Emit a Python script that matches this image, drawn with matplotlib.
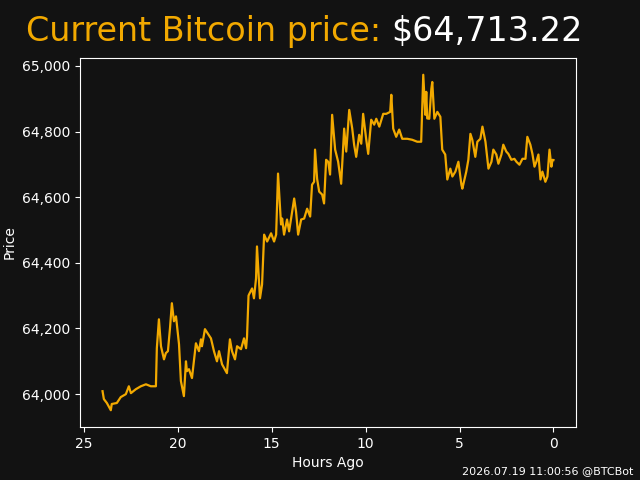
import matplotlib
matplotlib.use("Agg")
import matplotlib.pyplot as plt
from matplotlib.ticker import FuncFormatter

hours_ago = [24.0, 23.93, 23.77, 23.56, 23.51, 23.24, 23.03, 22.76, 22.60, 22.49, 22.23, 21.96, 21.69, 21.43, 21.16,
             21.11, 21.00, 20.89, 20.73, 20.63, 20.52, 20.41, 20.31, 20.20, 20.09, 19.93, 19.83, 19.67, 19.56, 19.51,
             19.40, 19.24, 19.13, 19.03, 18.87, 18.76, 18.71, 18.55, 18.23, 18.07, 17.91, 17.80, 17.64, 17.38, 17.22,
             17.11, 16.95, 16.84, 16.63, 16.47, 16.36, 16.31, 16.23, 16.20, 16.04, 15.94, 15.83, 15.78, 15.62, 15.51,
             15.40, 15.24, 15.03, 14.87, 14.76, 14.66, 14.50, 14.44, 14.34, 14.18, 14.07, 13.91, 13.80, 13.70, 13.59,
             13.43, 13.27, 13.11, 12.95, 12.85, 12.74, 12.69, 12.58, 12.47, 12.31, 12.21, 12.10, 11.99, 11.89, 11.78,
             11.62, 11.46, 11.30, 11.14, 11.03, 10.87, 10.71, 10.61, 10.50, 10.34, 10.23, 10.13, 9.97, 9.86, 9.70,
             9.54, 9.43, 9.27, 9.06, 8.90, 8.69, 8.63, 8.53, 8.37, 8.21, 8.05, 7.78, 7.52, 7.25, 7.04,
             6.93, 6.82, 6.77, 6.72, 6.61, 6.50, 6.45, 6.34, 6.18, 6.02, 5.92, 5.76, 5.65, 5.49, 5.38,
             5.22, 5.06, 4.90, 4.85, 4.64, 4.53, 4.42, 4.32, 4.16, 4.05, 3.89, 3.78, 3.62, 3.46, 3.30,
             3.20, 3.04, 2.93, 2.77, 2.67, 2.51, 2.40, 2.24, 2.08, 1.97, 1.81, 1.65, 1.49, 1.39, 1.23,
             1.12, 1.01, 0.91, 0.80, 0.69, 0.59, 0.43, 0.32, 0.21, 0.11, 0.05, 0.0]

prices = [64009, 63985, 63973, 63951, 63970, 63973, 63991, 64000, 64024, 64003, 64015, 64024, 64030, 64024, 64024,
          64140, 64228, 64146, 64106, 64125, 64131, 64201, 64277, 64222, 64237, 64152, 64040, 63994, 64100, 64070,
          64076, 64049, 64106, 64155, 64131, 64167, 64146, 64198, 64170, 64131, 64100, 64131, 64091, 64064, 64167,
          64131, 64106, 64146, 64137, 64170, 64140, 64175, 64300, 64304, 64322, 64292, 64353, 64450, 64292, 64334,
          64486, 64465, 64490, 64465, 64486, 64672, 64517, 64535, 64486, 64532, 64496, 64556, 64596, 64556, 64486,
          64532, 64535, 64565, 64541, 64638, 64647, 64745, 64656, 64617, 64608, 64581, 64714, 64708, 64669, 64851,
          64745, 64708, 64641, 64809, 64739, 64866, 64809, 64760, 64723, 64790, 64763, 64854, 64778, 64732, 64836,
          64821, 64839, 64815, 64854, 64854, 64860, 64912, 64809, 64784, 64806, 64778, 64778, 64775, 64769, 64769,
          64973, 64851, 64921, 64840, 64839, 64930, 64951, 64839, 64860, 64845, 64745, 64730, 64654, 64687, 64663,
          64678, 64708, 64638, 64626, 64678, 64714, 64793, 64775, 64723, 64769, 64778, 64815, 64769, 64687, 64708,
          64745, 64730, 64702, 64730, 64760, 64739, 64732, 64714, 64717, 64708, 64699, 64717, 64717, 64784, 64760,
          64732, 64693, 64708, 64730, 64654, 64678, 64647, 64663, 64745, 64693, 64714, 64713.22]

current_price = "$64,713.22"
timestamp = "2026.07.19 11:00:56 @BTCBot"

BG = "#121212"
ORANGE = "#f2a900"

fig = plt.figure(figsize=(6.4, 4.8), dpi=100, facecolor=BG)
ax = fig.add_axes([80/640, 53/480, 496/640, 369/480])
ax.set_facecolor(BG)
ax.plot(hours_ago, prices, color=ORANGE, linewidth=1.6)
ax.invert_xaxis()
ax.set_xticks([25, 20, 15, 10, 5, 0])
ax.yaxis.set_major_formatter(FuncFormatter(lambda v, p: f"{v:,.0f}"))
for s in ax.spines.values():
    s.set_color("white")
ax.tick_params(colors="white", labelsize=10)
ax.set_xlabel("Hours Ago", color="white", fontsize=10)
ax.set_ylabel("Price", color="white", fontsize=10)

fig.text(26/640, (480-41)/480, "Current Bitcoin price:", color=ORANGE, fontsize=24,
         ha="left", va="baseline")
fig.text(391/640, (480-41)/480, current_price, color="white", fontsize=24,
         ha="left", va="baseline")
fig.text(633/640, 6/480, timestamp, color="white", fontsize=8, ha="right", va="baseline")

fig.savefig("out.png", dpi=100, facecolor=BG)
